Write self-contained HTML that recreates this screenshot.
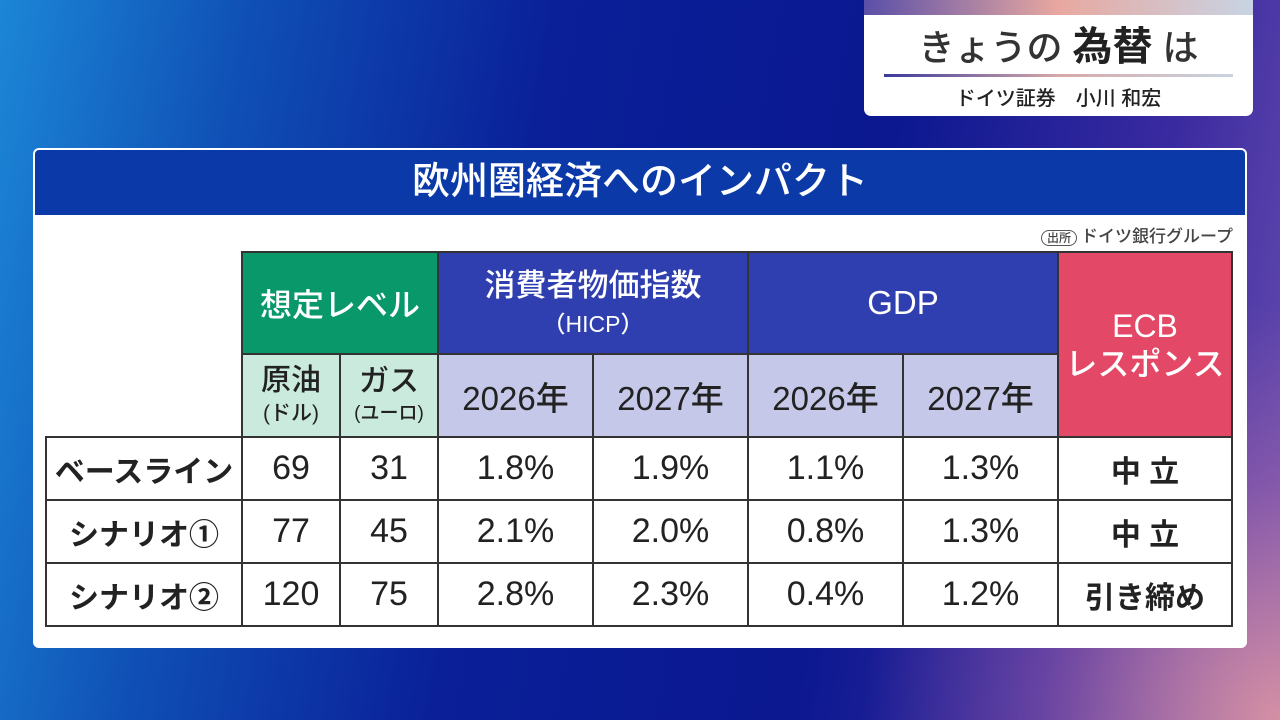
<!DOCTYPE html>
<html><head><meta charset="utf-8"><style>
*{margin:0;padding:0;box-sizing:border-box}
body{width:1280px;height:720px;overflow:hidden;position:relative;font-family:"Liberation Sans","Noto Sans CJK JP",sans-serif;
background:linear-gradient(100deg,#1c86d6 0%,#0f4fb5 18%,#0a1f98 40%,#0b1890 65%,#3a2aa0 85%,#6a4fb0 100%);}
.glow{position:absolute;right:0;bottom:0;width:420px;height:420px;background:radial-gradient(circle at 100% 100%,rgba(240,160,160,.8),rgba(200,120,170,.35) 40%,rgba(0,0,0,0) 70%)}
.card{position:absolute;left:864px;top:0;width:389px;height:116px;background:#fff;border-radius:0 0 7px 7px;overflow:hidden}
.card .strip{height:15px;background:linear-gradient(90deg,#5a4fa8,#e8a8a0 50%,#c8d4e4)}
.card .t{text-align:center;font-size:36px;color:#333;margin-top:10px;line-height:44px;font-weight:500}
.card .t b{font-size:40px;color:#222}
.card .line{margin:4px 20px 0;height:3px;background:linear-gradient(90deg,#3a3a9a,#d8a8a8 50%,#c8d4e0)}
.card .s{text-align:center;font-size:20px;color:#222;margin-top:5px;font-weight:500}
.panel{position:absolute;left:33px;top:148px;width:1214px;height:500px;background:#fff;border-radius:6px;border:2px solid #fff;overflow:hidden}
.title{height:65px;background:#0b3aa8;color:#fff;font-size:38px;text-align:center;line-height:65px;font-weight:500}
.src{position:absolute;right:12px;top:72px;font-size:17px;color:#444;font-weight:500}
.src span{border:1.5px solid #555;border-radius:9px;font-size:12px;padding:0 5px;margin-right:4px}
.c{position:absolute;display:flex;align-items:center;justify-content:center;text-align:center;border:2px solid #333;margin:-1px 0 0 -1px;color:#222;font-weight:500}
.g{background:#08986a;color:#fff}.lg{background:#c9eadd}.b{background:#2f3fb0;color:#fff}.lb{background:#c5c8e8}.r{background:#e34866;color:#fff}
</style></head><body>
<div class="glow"></div>
<div class="card"><div class="strip"></div><div class="t">きょうの <b>為替</b> は</div><div class="line"></div><div class="s">ドイツ証券　小川 和宏</div></div>
<div class="panel"><div class="title">欧州圏経済へのインパクト</div><div class="src"><span>出所</span>ドイツ銀行グループ</div></div>
<div id="t"></div>
<script>
const X=[46,242,340,438,593,748,903,1058,1232],Y=[252,354,437,500,563,626];
let h='';
function cell(x0,x1,y0,y1,cls,txt,st){h+=`<div class="c ${cls}" style="left:${X[x0]}px;top:${Y[y0]}px;width:${X[x1]-X[x0]+2}px;height:${Y[y1]-Y[y0]+2}px;${st||''}">${txt}</div>`}
cell(1,3,0,1,'g','想定レベル','font-size:32px');
cell(3,5,0,1,'b','<div><div style="font-size:31px;line-height:38px">消費者物価指数</div><div style="font-size:23px">（HICP）</div></div>');
cell(5,7,0,1,'b','GDP','font-size:33px');
cell(7,8,0,2,'r','<div style="font-size:32px;line-height:38px">ECB<br>レスポンス</div>');
cell(1,2,1,2,'lg','<div><div style="font-size:30px;line-height:32px">原油</div><div style="font-size:21px">(ドル)</div></div>');
cell(2,3,1,2,'lg','<div><div style="font-size:30px;line-height:32px">ガス</div><div style="font-size:19px">(ユーロ)</div></div>');
for(let i=3;i<7;i++)cell(i,i+1,1,2,'lb',i%2?'2026年':'2027年','font-size:33px');
const rows=[['ベースライン','69','31','1.8%','1.9%','1.1%','1.3%','中 立'],['シナリオ①','77','45','2.1%','2.0%','0.8%','1.3%','中 立'],['シナリオ②','120','75','2.8%','2.3%','0.4%','1.2%','引き締め']];
rows.forEach((r,ri)=>r.forEach((v,ci)=>cell(ci,ci+1,ri+2,ri+3,'',v,(ci==0||ci==7)?'font-size:30px;font-weight:bold':'font-size:34px')));
document.getElementById('t').innerHTML=h;
</script>
</body></html>
